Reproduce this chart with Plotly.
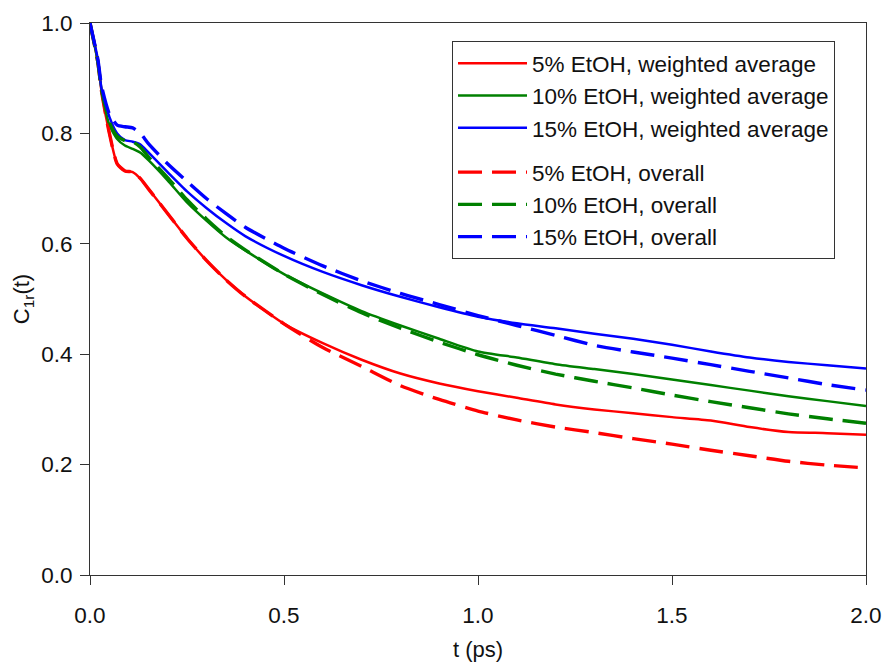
import plotly.graph_objects as go

t = [0.0, 0.02, 0.03, 0.05, 0.07, 0.09, 0.11, 0.13, 0.15, 0.2, 0.25, 0.3, 0.35, 0.4,
     0.5, 0.6, 0.7, 0.8, 0.9, 1.0, 1.1, 1.2, 1.3, 1.4, 1.5, 1.6, 1.7, 1.8, 1.9, 2.0]

red_weighted = [1.0, 0.93, 0.875, 0.80, 0.745, 0.732, 0.730, 0.718, 0.70, 0.655, 0.61, 0.57, 0.535, 0.505,
                0.455, 0.42, 0.39, 0.365, 0.347, 0.333, 0.321, 0.309, 0.300, 0.293, 0.286, 0.280, 0.268, 0.259, 0.257, 0.254]
green_weighted = [1.0, 0.93, 0.878, 0.815, 0.79, 0.778, 0.772, 0.765, 0.752, 0.715, 0.675, 0.642, 0.612, 0.588,
                  0.545, 0.51, 0.478, 0.452, 0.428, 0.405, 0.394, 0.382, 0.373, 0.364, 0.354, 0.344, 0.334, 0.324, 0.315, 0.306]
blue_weighted = [1.0, 0.935, 0.88, 0.83, 0.80, 0.788, 0.785, 0.78, 0.766, 0.73, 0.695, 0.665, 0.638, 0.614,
                 0.578, 0.549, 0.525, 0.504, 0.485, 0.468, 0.456, 0.447, 0.437, 0.428, 0.417, 0.405, 0.394, 0.386, 0.38, 0.374]

red_overall = [1.0, 0.93, 0.875, 0.80, 0.745, 0.732, 0.730, 0.718, 0.70, 0.655, 0.61, 0.57, 0.535, 0.505,
               0.455, 0.412, 0.378, 0.343, 0.318, 0.297, 0.281, 0.268, 0.258, 0.247, 0.237, 0.226, 0.216, 0.206, 0.199, 0.194]
green_overall = [1.0, 0.93, 0.878, 0.82, 0.795, 0.787, 0.785, 0.775, 0.758, 0.72, 0.68, 0.645, 0.614, 0.589,
                 0.545, 0.508, 0.475, 0.447, 0.422, 0.399, 0.38, 0.364, 0.351, 0.339, 0.326, 0.314, 0.303, 0.292, 0.283, 0.275]
blue_overall = [1.0, 0.935, 0.885, 0.835, 0.815, 0.812, 0.81, 0.80, 0.782, 0.745, 0.713, 0.682, 0.655, 0.63,
                0.592, 0.56, 0.533, 0.51, 0.49, 0.47, 0.452, 0.434, 0.416, 0.404, 0.393, 0.381, 0.369, 0.357, 0.345, 0.335]

names_weighted = ["5% EtOH, weighted average", "10% EtOH, weighted average", "15% EtOH, weighted average"]
names_overall = ["5% EtOH, overall", "10% EtOH, overall", "15% EtOH, overall"]
colors = ["#ff0000", "#008000", "#0000ff"]

x_ticks = [0.0, 0.5, 1.0, 1.5, 2.0]
y_ticks = [0.0, 0.2, 0.4, 0.6, 0.8, 1.0]

FONT = "Liberation Sans, Arial, sans-serif"
TXT = "#111111"

fig = go.Figure()
for name, ys, c in zip(names_weighted, [red_weighted, green_weighted, blue_weighted], colors):
    fig.add_trace(go.Scatter(x=t, y=ys, mode="lines", name=name, legendgroup="w",
                             line=dict(color=c, width=2.5, shape="spline", smoothing=0.6)))
for name, ys, c in zip(names_overall, [red_overall, green_overall, blue_overall], colors):
    fig.add_trace(go.Scatter(x=t, y=ys, mode="lines", name=name, legendgroup="o",
                             line=dict(color=c, width=3.4, dash="24px,10px", shape="spline", smoothing=0.6)))

axis_common = dict(showgrid=False, zeroline=False, showline=True, linecolor="#333333", linewidth=1,
                   mirror=True, ticks="outside", ticklen=9, tickcolor="#333333", automargin=False,
                   tickfont=dict(family=FONT, size=22.5, color=TXT), tickformat=".1f")

fig.update_xaxes(range=[0, 2.0], tickvals=x_ticks, ticklabelstandoff=11,
                 title=dict(text="t (ps)", font=dict(family=FONT, size=22, color=TXT), standoff=17),
                 **axis_common)
fig.update_yaxes(range=[0, 1.0], tickvals=y_ticks, ticklabelstandoff=3,
                 title=dict(text="C<sub>1r</sub>(t)", font=dict(family=FONT, size=22, color=TXT), standoff=5),
                 **axis_common)

fig.update_layout(
    width=886, height=662, autosize=False,
    margin=dict(l=90, r=20, t=23, b=87),
    paper_bgcolor="white", plot_bgcolor="white",
    font=dict(family=FONT, size=22, color=TXT),
    showlegend=True,
    legend=dict(x=0.4665, y=0.967, xanchor="left", yanchor="top",
                bordercolor="#333333", borderwidth=1, bgcolor="white",
                traceorder="grouped", tracegroupgap=12, itemwidth=69,
                font=dict(family=FONT, size=22.5, color=TXT)),
)

fig.write_html("out.html",
               config={"displayModeBar": False, "responsive": False},
               post_script="document.body.style.margin='0';document.body.style.overflow='hidden';")
